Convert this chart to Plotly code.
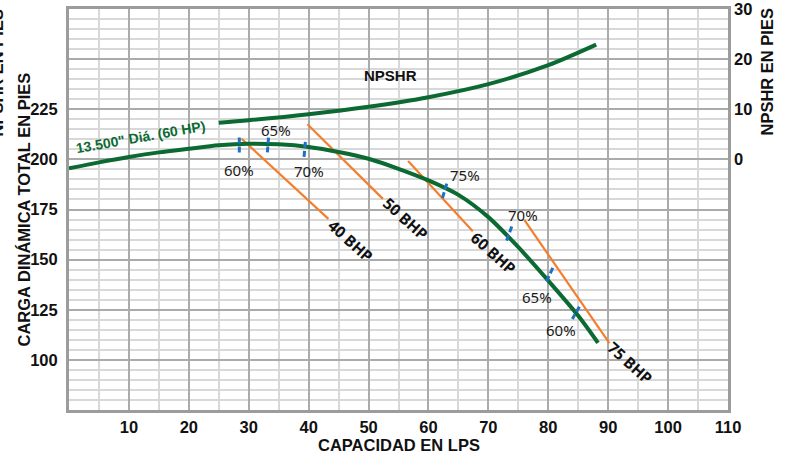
import plotly.graph_objects as go

# ---------------- data ----------------
head_q = [0, 5, 10, 15, 20, 25, 30, 35, 40, 45, 50, 55, 60, 65, 70, 75, 80, 85, 88.3]
head_h = [195.5, 198.5, 201.2, 203.5, 205.3, 207.0, 207.8, 207.5, 206.2, 203.7, 200.3,
          195.3, 189.5, 182.3, 171.2, 156.2, 139.5, 122.0, 108.5]

npshr_q = [25, 30, 40, 50, 60, 70, 80, 88]
npshr_v = [7.3, 7.8, 9.0, 10.5, 12.4, 15.0, 18.8, 22.9]

bhp_labels = ["40 BHP", "50 BHP", "60 BHP", "75 BHP"]
bhp_q0 = [28.8, 39.8, 56.6, 76.0]
bhp_h0 = [210.3, 217.5, 199.2, 169.8]
bhp_q1 = [43.3, 52.4, 67.4, 90.2]
bhp_h1 = [170.3, 180.3, 164.2, 108.3]
bhp_lab_q = [47.1, 56.3, 70.9, 93.7]
bhp_lab_h = [159.5, 170.5, 153.5, 98.3]

eff_labels = ["60%", "65%", "70%", "75%", "70%", "65%", "60%"]
eff_q0 = [28.43, 33.3, 39.45, 63.05, 73.9, 80.75, 85.19]
eff_h0 = [210.9, 210.9, 208.7, 187.9, 166.5, 145.9, 126.5]
eff_q1 = [28.43, 33.1, 39.23, 62.22, 72.95, 79.57, 84.02]
eff_h1 = [202.9, 202.9, 201.2, 179.5, 158.7, 138.2, 120.4]
eff_lab_q = [28.3, 34.5, 40.1, 66.1, 75.8, 78.1, 82.2]
eff_lab_h = [194.5, 214.5, 194.3, 192.2, 172.5, 131.5, 115.0]

x_ticks = [0, 10, 20, 30, 40, 50, 60, 70, 80, 90, 100, 110]
x_ticktext = ["", "10", "20", "30", "40", "50", "60", "70", "80", "90", "100", "110"]
y_ticks = [75, 100, 125, 150, 175, 200, 225, 250, 275]
y_ticktext = ["", "100", "125", "150", "175", "200", "225", "", ""]
y2_ticks = [0, 10, 20, 30]

curve_label = "13.500\" Diá. (60 HP)"

# ---------------- styles ----------------
GREEN = "#0b6a31"
ORANGE = "#f37f2e"
BLUE = "#1f6fc2"
BOLD = "Liberation Sans, Arial, sans-serif"
REG = "Noto Sans, Open Sans, sans-serif"

fig = go.Figure()

# BHP lines
for q0, h0, q1, h1 in zip(bhp_q0, bhp_h0, bhp_q1, bhp_h1):
    fig.add_trace(go.Scatter(x=[q0, q1], y=[h0, h1], mode="lines",
                             line=dict(color=ORANGE, width=2.2), hoverinfo="skip",
                             showlegend=False))

# Head curve
fig.add_trace(go.Scatter(x=head_q, y=head_h, mode="lines",
                         line=dict(color=GREEN, width=4, shape="spline", smoothing=0.8),
                         showlegend=False))

# NPSHR curve on secondary axis
fig.add_trace(go.Scatter(x=npshr_q, y=npshr_v, mode="lines", yaxis="y2",
                         line=dict(color=GREEN, width=4, shape="spline", smoothing=0.8),
                         showlegend=False))

# efficiency marks
for q0, h0, q1, h1 in zip(eff_q0, eff_h0, eff_q1, eff_h1):
    fig.add_trace(go.Scatter(x=[q0, q1], y=[h0, h1], mode="lines",
                             line=dict(color=BLUE, width=3, dash="6px,3px"),
                             hoverinfo="skip", showlegend=False))

annotations = []
for t, q, h in zip(bhp_labels, bhp_lab_q, bhp_lab_h):
    annotations.append(dict(x=q, y=h, xref="x", yref="y", text=t, showarrow=False,
                            textangle=42, font=dict(family=REG, size=15.5, color="#111",
                                                    weight="bold")))
for t, q, h in zip(eff_labels, eff_lab_q, eff_lab_h):
    annotations.append(dict(x=q, y=h, xref="x", yref="y", text=t, showarrow=False,
                            font=dict(family=REG, size=15, color="#1a1a1a")))

annotations.append(dict(x=12.0, y=211.2, xref="x", yref="y", text=curve_label,
                        showarrow=False, textangle=-10,
                        font=dict(family=BOLD, size=14, color=GREEN, weight="bold")))
annotations.append(dict(x=53.6, y=241.6, xref="x", yref="y", text="NPSHR",
                        showarrow=False,
                        font=dict(family=BOLD, size=15, color="#111", weight="bold")))

# axis titles
title_font = dict(family=BOLD, size=16.5, color="#111", weight="bold")
annotations.append(dict(x=0.5007, y=-0.0873, xref="paper", yref="paper",
                        text="CAPACIDAD EN LPS", showarrow=False, font=title_font,
                        xanchor="center", yanchor="middle"))
annotations.append(dict(x=-0.0683, y=0.5, xref="paper", yref="paper",
                        text="CARGA DINÁMICA TOTAL EN PIES", showarrow=False,
                        textangle=-90, font=title_font, xanchor="center", yanchor="middle"))
annotations.append(dict(x=1.0592, y=0.8416, xref="paper", yref="paper",
                        text="NPSHR EN PIES", showarrow=False,
                        textangle=-90, font=title_font, xanchor="center", yanchor="middle"))
annotations.append(dict(x=-0.1093, y=0.8416, xref="paper", yref="paper",
                        text="NPSHR EN PIES", showarrow=False,
                        textangle=-90, font=title_font, xanchor="center", yanchor="middle"))

tick_font = dict(family=BOLD, size=16.5, color="#111", weight="bold")
MAJOR = "#ababab"
MINOR = "#d8d8d8"
BORDER = "#9c9c9c"

fig.update_layout(
    width=785, height=458,
    margin=dict(l=69, r=57, t=9, b=48, autoexpand=False),
    paper_bgcolor="white", plot_bgcolor="white",
    showlegend=False,
    annotations=annotations,
    xaxis=dict(range=[0, 110], tickmode="array", tickvals=x_ticks, ticktext=x_ticktext,
               showgrid=True, gridcolor=MAJOR, gridwidth=1.5,
               minor=dict(dtick=5, showgrid=True, gridcolor=MINOR, gridwidth=1.5),
               showline=True, linecolor=BORDER, linewidth=3, mirror=True,
               ticks="", tickfont=tick_font, ticklabelstandoff=0, zeroline=False,
               automargin=False, fixedrange=True),
    yaxis=dict(range=[75, 275], tickmode="array", tickvals=y_ticks, ticktext=y_ticktext,
               showgrid=True, gridcolor=MAJOR, gridwidth=1.5,
               minor=dict(dtick=5, showgrid=True, gridcolor=MINOR, gridwidth=1.5),
               showline=True, linecolor=BORDER, linewidth=3, mirror=True,
               ticks="", tickfont=tick_font, ticklabelstandoff=5, zeroline=False,
               automargin=False, fixedrange=True),
    yaxis2=dict(range=[-50, 30], overlaying="y", side="right", tickmode="array",
                tickvals=y2_ticks, showgrid=False, zeroline=False, ticks="",
                tickfont=tick_font, ticklabelstandoff=5, showline=False,
                ticklabeloverflow="allow", automargin=False, fixedrange=True),
)

fig.write_html("out.html", config={"displayModeBar": False},
               post_script="document.body.style.margin='0';")
